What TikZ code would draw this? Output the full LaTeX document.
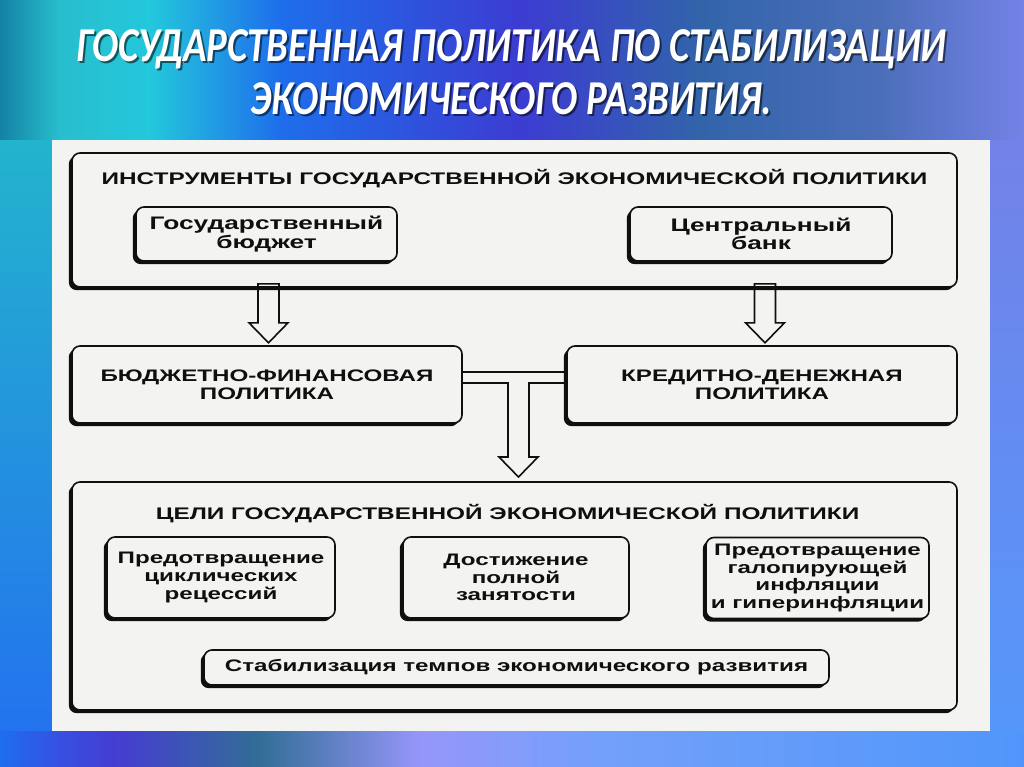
\documentclass[tikz,border=0pt]{standalone}
\usepackage{fontspec}
\setmainfont{Liberation Sans}
\newfontfamily\titlefont[FakeStretch=0.8]{Carlito}
\newfontfamily\boxfont[FakeStretch=1.45]{Liberation Sans}
\usetikzlibrary{shadows,calc}
\definecolor{paper}{RGB}{243,243,241}
\definecolor{ink}{RGB}{15,15,15}
\tikzset{
  bx/.style={draw=ink, line width=1.2pt, rounded corners=6pt, fill=paper,
    drop shadow={shadow xshift=-2.4pt, shadow yshift=-2.4pt, fill=ink, opacity=1},
    inner sep=0pt, align=center, text=ink,
    font=\boxfont\bfseries\fontsize{12.5pt}{13.3pt}\selectfont},
  bigtxt/.style={font=\boxfont\bfseries\fontsize{13.6pt}{14pt}\selectfont},
  hdr/.style={inner sep=0pt, text=ink, font=\boxfont\bfseries\fontsize{12.6pt}{13.3pt}\selectfont},
  conn/.style={draw=ink, line width=1.2pt, line join=miter},
  ttl/.style={inner sep=0pt, font=\titlefont\bfseries\itshape\fontsize{36.5pt}{40pt}\selectfont},
}
\begin{document}
\begin{tikzpicture}[x=0.75pt,y=-0.75pt]
\useasboundingbox (0,0) rectangle (1024,767);
% background
\foreach \xa/\xb/\ca/\cb in {0/60/{rgb,255:red,20;green,130;blue,165}/{rgb,255:red,40;green,190;blue,205},
  60/150/{rgb,255:red,40;green,190;blue,205}/{rgb,255:red,35;green,200;blue,220},
  150/280/{rgb,255:red,35;green,200;blue,220}/{rgb,255:red,30;green,110;blue,235},
  280/520/{rgb,255:red,30;green,110;blue,235}/{rgb,255:red,60;green,60;blue,210},
  520/700/{rgb,255:red,60;green,60;blue,210}/{rgb,255:red,50;green,100;blue,170},
  700/880/{rgb,255:red,50;green,100;blue,170}/{rgb,255:red,75;green,110;blue,185},
  880/1024/{rgb,255:red,75;green,110;blue,185}/{rgb,255:red,115;green,130;blue,230}}
  { \shade[left color=\ca, right color=\cb] (\xa-0.5,0) rectangle (\xb+0.5,141); }
\foreach \xa/\xb/\ca/\cb in {0/60/{rgb,255:red,30;green,110;blue,240}/{rgb,255:red,55;green,80;blue,225},
  60/115/{rgb,255:red,55;green,80;blue,225}/{rgb,255:red,70;green,60;blue,210},
  115/260/{rgb,255:red,70;green,60;blue,210}/{rgb,255:red,50;green,110;blue,150},
  260/420/{rgb,255:red,50;green,110;blue,150}/{rgb,255:red,150;green,150;blue,250},
  420/600/{rgb,255:red,150;green,150;blue,250}/{rgb,255:red,115;green,160;blue,250},
  600/1024/{rgb,255:red,115;green,160;blue,250}/{rgb,255:red,80;green,150;blue,250}}
  { \shade[left color=\ca, right color=\cb] (\xa-0.5,729) rectangle (\xb+0.5,767); }
\shade[top color={rgb,255:red,35;green,180;blue,205}, bottom color={rgb,255:red,35;green,115;blue,238}] (0,140) rectangle (53,730);
\shade[top color={rgb,255:red,115;green,130;blue,232}, bottom color={rgb,255:red,85;green,150;blue,250}] (989,140) rectangle (1024,730);
% title
\node[ttl, text=black, opacity=0.55] at (513,51) {ГОСУДАРСТВЕННАЯ ПОЛИТИКА ПО СТАБИЛИЗАЦИИ};
\node[ttl, text=black, opacity=0.55] at (513,101) {ЭКОНОМИЧЕСКОГО РАЗВИТИЯ.};
\node[ttl, text=white] (t1) at (511,49) {ГОСУДАРСТВЕННАЯ ПОЛИТИКА ПО СТАБИЛИЗАЦИИ};
\node[ttl, text=white] (t2) at (511,99) {ЭКОНОМИЧЕСКОГО РАЗВИТИЯ.};
% panel
\fill[paper] (52,140) rectangle (990,731);
% instruments
\node[bx, minimum width=663.75pt, minimum height=100.5pt] (top) at (514.5,220) {};
\node[hdr] (toph) at (514.5,179) {ИНСТРУМЕНТЫ ГОСУДАРСТВЕННОЙ ЭКОНОМИЧЕСКОЙ ПОЛИТИКИ};
\node[bx, bigtxt, minimum width=195.75pt, minimum height=40.5pt] (budget) at (266.5,234) {Государственный\\бюджет};
\node[bx, bigtxt, minimum width=196.5pt, minimum height=40.5pt] (bank) at (761,234) {Центральный\\банк};
% policies
\node[bx, minimum width=292.5pt, minimum height=57.75pt] (bf) at (267,384.5) {БЮДЖЕТНО-ФИНАНСОВАЯ\\ПОЛИТИКА};
\node[bx, minimum width=292.5pt, minimum height=57.75pt] (kd) at (762,384.5) {КРЕДИТНО-ДЕНЕЖНАЯ\\ПОЛИТИКА};
% goals
\node[bx, minimum width=663.75pt, minimum height=171pt] (goals) at (514.5,596) {};
\node[hdr] (goalsh) at (507.5,514) {ЦЕЛИ ГОСУДАРСТВЕННОЙ ЭКОНОМИЧЕСКОЙ ПОЛИТИКИ};
\node[bx, minimum width=171pt, minimum height=60.75pt] (g1) at (221,577.5) {Предотвращение\\циклических\\рецессий};
\node[bx, minimum width=169.5pt, minimum height=60.75pt] (g2) at (516,577.5) {Достижение\\полной\\занятости};
\node[bx, minimum width=167.25pt, minimum height=60.75pt] (g3) at (817.5,578) {Предотвращение\\галопирующей\\инфляции\\и гиперинфляции};
\node[bx, minimum width=468.75pt, minimum height=26.25pt] (stab) at (516.5,667.5) {Стабилизация темпов экономического развития};
% arrows
\coordinate (la) at (268.5,0);
\coordinate (ra) at (765,0);
\draw[conn] (la |- top.south) ++(-10.5,-4) -- ++(0,39) -- ++(-9,0) -- ++(19.5,20) -- ++(19.5,-20) -- ++(-9,0) -- ++(0,-39) -- cycle;
\draw[conn] (ra |- top.south) ++(-10.5,-4) -- ++(0,39) -- ++(-9,0) -- ++(19.5,20) -- ++(19.5,-20) -- ++(-9,0) -- ++(0,-39) -- cycle;
\draw[conn] (bf.east |- 0,372) -- (kd.west |- 0,372);
\draw[conn] (bf.east |- 0,383) -- (508,383) -- (508,457) -- (499,457) -- (518.5,477) -- (538,457) -- (529,457) -- (529,383) -- (kd.west |- 0,383);
\end{tikzpicture}
\end{document}
